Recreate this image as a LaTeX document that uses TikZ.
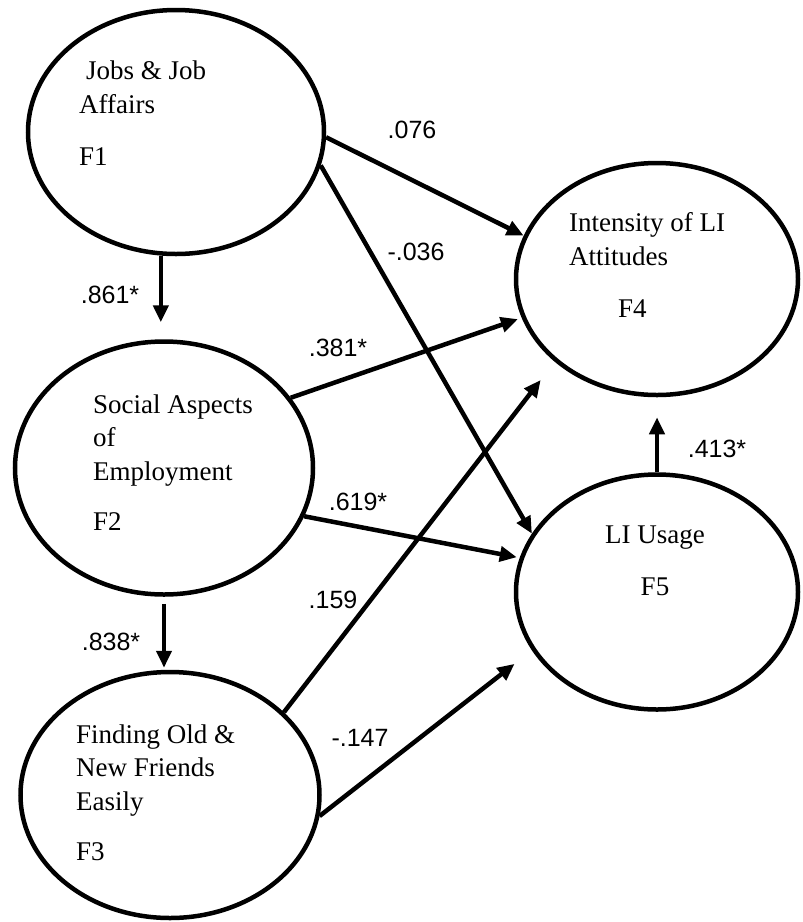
\documentclass[tikz,border=0pt]{standalone}
\usepackage{fontspec}
\setmainfont{Liberation Serif}
\newfontfamily\wtfont{Liberation Sans}
\usetikzlibrary{shapes.geometric,arrows.meta}

\begin{document}
\begin{tikzpicture}[x=1pt,y=-1pt,
  factor/.style={shape=ellipse,draw,line width=4.5pt,inner sep=0pt},
  fname/.style={align=left,anchor=base west,inner sep=0pt,font=\fontsize{27}{33.5}\selectfont},
  wt/.style={inner sep=0pt,font=\wtfont\fontsize{25}{30}\selectfont},
  arr/.style={-{Triangle[length=17pt,width=15pt]},line width=4.5pt}]
\useasboundingbox (0,0) rectangle (803,922);

\node(f1) at (176,132)[factor,minimum width=296pt,minimum height=244pt] {};
\node(f2) at (164,468)[factor,minimum width=298pt,minimum height=253pt] {};
\node(f3) at (170,795)[factor,minimum width=299pt,minimum height=246pt] {};
\node(f4) at (657,279)[factor,minimum width=282pt,minimum height=232pt] {};
\node(f5) at (657,592)[factor,minimum width=282pt,minimum height=235pt] {};

% the base of a two or three line name is its last line
\node(t1) at (79,113)[fname] {\hspace*{7pt}Jobs \& Job\\Affairs};
\node(n1) at (79,165)[fname] {F1};
\node(t2) at (93,480)[fname] {Social Aspects\\of\\Employment};
\node(n2) at (93,530)[fname] {F2};
\node(t3) at (76,810)[fname] {Finding Old \&\\New Friends\\Easily};
\node(n3) at (76,860)[fname] {F3};
\node(t4) at (569,265)[fname] {Intensity of LI\\Attitudes};
\node(n4) at (618,317)[fname] {F4};
\node(t5) at (655,543)[fname,anchor=base] {LI Usage};
\node(n5) at (655,595)[fname,anchor=base] {F5};

\path [arr]
  (f1.-97)  edge [shorten >=17pt]  (f1.-97 |- f2.north)
  (f2.south) edge [shorten <=7pt,shorten >=2pt] (f2.south |- f3.north)
  (f1.-2)   edge                   (f4.162)
  (f1.-13)  edge                   (f5.155)
  (f2.29)   edge [shorten >=4pt]   (f4.196)
  (f2.-19)  edge [shorten >=3pt]   (f5.166)
  (f3.36)   edge [shorten >=23pt]  (f4.219)
  (f3.-8)   edge [shorten >=22pt]  (f5.205)
  (f5.north) edge [shorten >=20pt] (f4.south);

\node(w12) at (110,295)[wt] {.861*};
\node(w23) at (111,642)[wt] {.838*};
\node(w14) at (412,130)[wt] {.076};
\node(w15) at (416,252)[wt] {-.036};
\node(w24) at (338,348)[wt] {.381*};
\node(w25) at (358,502)[wt] {.619*};
\node(w34) at (333,600)[wt] {.159};
\node(w35) at (360,738)[wt] {-.147};
\node(w54) at (717,449)[wt] {.413*};
\end{tikzpicture}
\end{document}
